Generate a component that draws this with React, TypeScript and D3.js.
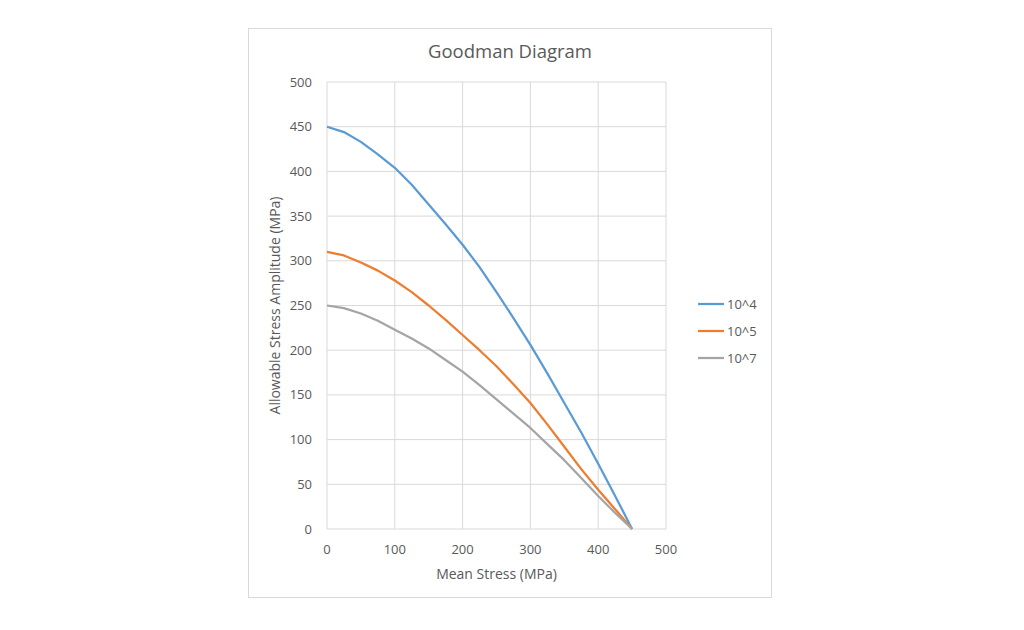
import React from "react";
import * as d3 from "d3";

const meanStress = [0, 25, 50, 75, 100, 125, 150, 175, 200, 225, 250, 275, 300, 325, 350, 375, 400, 425, 450];
const amp1e4 = [450, 444, 433, 419, 404, 385, 363, 341, 318, 293, 265, 236, 206, 174, 141, 108, 73, 37, 0];
const amp1e5 = [310, 306, 298, 289, 278, 265, 250, 234, 217, 200, 182, 162, 141, 117, 92, 67, 44, 22, 0];
const amp1e7 = [250, 247, 241, 233, 223, 213, 202, 189, 176, 161, 145, 129, 113, 95, 77, 57, 37, 18, 0];
const seriesNames = ["10^4", "10^5", "10^7"];
const seriesColors = ["#5B9BD5", "#ED7D31", "#A5A5A5"];
const xTicks = [0, 100, 200, 300, 400, 500];
const yTicks = [0, 50, 100, 150, 200, 250, 300, 350, 400, 450, 500];

export default function App() {
  const font = "'Open Sans', 'Liberation Sans', sans-serif";
  const x = d3.scaleLinear().domain([0, 500]).range([327, 666]);
  const y = d3.scaleLinear().domain([0, 500]).range([529, 82]);
  const series = [amp1e4, amp1e5, amp1e7];
  const line = d3
    .line<number>()
    .x((_, i) => x(meanStress[i]))
    .y((d) => y(d))
    .curve(d3.curveLinear);
  const textColor = "#595959";
  return (
    <svg width={1024} height={630} style={{ position: "absolute", left: 0, top: 0 }}>
      <rect x={0} y={0} width={1024} height={630} fill="#fff" />
      <rect x={248.5} y={28.5} width={523} height={569} fill="#fff" stroke="#d9d9d9" />
      <text x={510} y={58} textAnchor="middle" fontFamily={font} fontSize={18.5} fill={textColor}>
        Goodman Diagram
      </text>
      {xTicks.map((t) => (
        <line key={"gx" + t} x1={x(t)} x2={x(t)} y1={y(0)} y2={y(500)} stroke="#d9d9d9" strokeWidth={1} />
      ))}
      {yTicks.map((t) => (
        <line key={"gy" + t} x1={x(0)} x2={x(500)} y1={y(t)} y2={y(t)} stroke="#d9d9d9" strokeWidth={1} />
      ))}
      {yTicks.map((t) => (
        <text key={"yl" + t} x={312} y={y(t) + 4.5} textAnchor="end" fontFamily={font} fontSize={13} fill={textColor}>
          {t}
        </text>
      ))}
      {xTicks.map((t) => (
        <text key={"xl" + t} x={x(t)} y={554} textAnchor="middle" fontFamily={font} fontSize={13} fill={textColor}>
          {t}
        </text>
      ))}
      <text x={496.5} y={579} textAnchor="middle" fontFamily={font} fontSize={14} fill={textColor}>
        Mean Stress (MPa)
      </text>
      <text
        transform={`translate(280, ${y(250)}) rotate(-90)`}
        textAnchor="middle"
        fontFamily={font}
        fontSize={14}
        fill={textColor}
      >
        Allowable Stress Amplitude (MPa)
      </text>
      {series.map((s, i) => (
        <path key={"s" + i} d={line(s) || ""} fill="none" stroke={seriesColors[i]} strokeWidth={2.25} strokeLinejoin="round" />
      ))}
      {seriesNames.map((n, i) => (
        <g key={"lg" + i}>
          <line x1={698} x2={724} y1={304 + i * 27} y2={304 + i * 27} stroke={seriesColors[i]} strokeWidth={2.25} />
          <text x={727} y={304 + i * 27 + 4.5} fontFamily={font} fontSize={13} fill={textColor}>
            {n}
          </text>
        </g>
      ))}
    </svg>
  );
}
